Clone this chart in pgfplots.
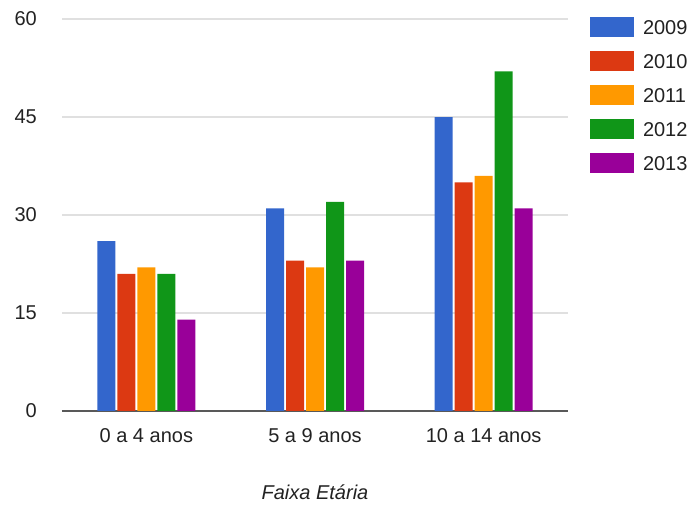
\documentclass[border=0pt]{standalone}
\usepackage{pgfplots}
\pgfplotsset{compat=1.18}
\usepackage{fontspec}
\setmainfont{Liberation Sans}
\definecolor{cA}{HTML}{3366CC}
\definecolor{cB}{HTML}{DC3912}
\definecolor{cC}{HTML}{FF9900}
\definecolor{cD}{HTML}{109618}
\definecolor{cE}{HTML}{990099}
\definecolor{txt}{HTML}{222222}
\definecolor{gridc}{HTML}{E0E0E0}
\begin{document}
\begin{tikzpicture}
\begin{axis}[
  scale only axis,
  width=506pt, height=392pt,
  xmin=-0.5, xmax=2.5, ymin=0, ymax=60,
  ybar=2pt, bar width=18pt,
  xtick={0,1,2},
  xticklabels={0 a 4 anos, 5 a 9 anos, 10 a 14 anos},
  ytick={0,15,30,45,60},
  major tick length=0pt,
  ymajorgrids, grid style={gridc, line width=1.2pt},
  axis x line*=bottom, axis y line*=left,
  x axis line style={draw=black!65, line width=1.2pt, -},
  y axis line style={draw=none},
  /pgf/number format/assume math mode=true,
  tick label style={font=\fontsize{20}{24}\selectfont, text=txt},
  xticklabel style={anchor=north, inner sep=0pt, yshift=-17pt},
  yticklabel style={anchor=east, inner sep=0pt, xshift=-25pt},
  xlabel={Faixa Etária},
  xlabel style={font=\fontsize{20}{24}\selectfont\itshape, text=txt, at={(axis description cs:0.5,0)}, anchor=center, yshift=-81pt},
  legend style={at={(1,1)}, anchor=north west, xshift=22pt, yshift=2pt, draw=none, inner sep=0pt, outer sep=0pt,
    font=\fontsize{20}{24}\selectfont, text=txt, row sep=12pt, column sep=8pt,
    nodes={inner sep=1pt, text height=14pt, text depth=4pt, anchor=base west}},
  legend image code/.code={\fill[#1] (0pt,-3pt) rectangle (44pt,17pt);},
  legend cell align=left,
  clip=false,
]
\addplot[fill=cA, draw=none] coordinates {(0,26) (1,31) (2,45)};
\addplot[fill=cB, draw=none] coordinates {(0,21) (1,23) (2,35)};
\addplot[fill=cC, draw=none] coordinates {(0,22) (1,22) (2,36)};
\addplot[fill=cD, draw=none] coordinates {(0,21) (1,32) (2,52)};
\addplot[fill=cE, draw=none] coordinates {(0,14) (1,23) (2,31)};
\legend{2009,2010,2011,2012,2013}
\end{axis}
\pgfresetboundingbox
\path (-62pt,-94pt) rectangle (634pt,411pt);
\end{tikzpicture}
\end{document}
